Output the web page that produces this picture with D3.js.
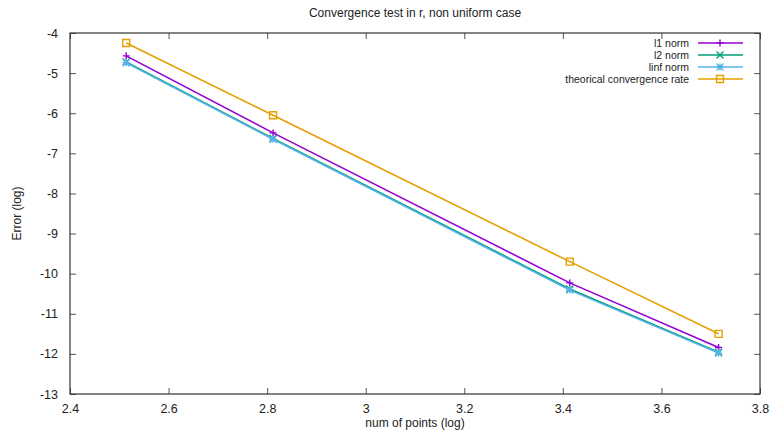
<!DOCTYPE html>
<html>
<head>
<meta charset="utf-8">
<script src="https://cdn.jsdelivr.net/npm/d3@7"></script>
<style>
  body { margin: 0; background: #fff; }
  svg { display: block; font-family: "Liberation Sans", Arial, sans-serif; }
</style>
</head>
<body>
<svg id="chart"></svg>
<script>
const xValues = [2.514, 2.812, 3.414, 3.716];
const l1Norm = [-4.57, -6.49, -10.23, -11.84];
const l2Norm = [-4.72, -6.63, -10.38, -11.96];
const linfNorm = [-4.74, -6.65, -10.41, -11.98];
const theoRate = [-4.25, -6.05, -9.70, -11.50];

const xTicks = [2.4, 2.6, 2.8, 3, 3.2, 3.4, 3.6, 3.8];
const yTicks = [-4, -5, -6, -7, -8, -9, -10, -11, -12, -13];

const seriesNames = ["l1 norm", "l2 norm", "linf norm", "theorical convergence rate"];
const seriesColors = ["#9400d3", "#009e73", "#56b4e9", "#e69f00"];
const seriesMarkers = ["plus", "cross", "star", "square"];

const width = 774;
const height = 432;
const margin = { top: 33, right: 14, bottom: 38, left: 70 };

const svg = d3.select("#chart").attr("width", width).attr("height", height);

const xScale = d3.scaleLinear().domain([2.4, 3.8]).range([margin.left, width - margin.right]);
const yScale = d3.scaleLinear().domain([-13, -4]).range([height - margin.bottom, margin.top]);

const series = [l1Norm, l2Norm, linfNorm, theoRate].map((vals, i) => ({
  name: seriesNames[i],
  color: seriesColors[i],
  marker: seriesMarkers[i],
  points: vals.map((v, j) => [xValues[j], v]),
}));

// axes with inward ticks, mirrored on top / right
const tickLen = 6;
const plainNum = (d) => String(d);
svg.append("g")
  .attr("transform", "translate(0," + (height - margin.bottom) + ")")
  .call(d3.axisBottom(xScale).tickValues(xTicks).tickSizeInner(-tickLen).tickSizeOuter(0).tickPadding(10).tickFormat(plainNum))
  .call(g => g.select(".domain").remove());
svg.append("g")
  .attr("transform", "translate(0," + margin.top + ")")
  .call(d3.axisTop(xScale).tickValues(xTicks).tickSizeInner(-tickLen).tickSizeOuter(0).tickFormat(""))
  .call(g => g.select(".domain").remove());
svg.append("g")
  .attr("transform", "translate(" + margin.left + ",0)")
  .call(d3.axisLeft(yScale).tickValues(yTicks).tickSizeInner(-tickLen).tickSizeOuter(0).tickPadding(12).tickFormat(plainNum))
  .call(g => g.select(".domain").remove());
svg.append("g")
  .attr("transform", "translate(" + (width - margin.right) + ",0)")
  .call(d3.axisRight(yScale).tickValues(yTicks).tickSizeInner(-tickLen).tickSizeOuter(0).tickFormat(""))
  .call(g => g.select(".domain").remove());

svg.selectAll(".tick text").attr("font-size", 12.5).attr("fill", "#222").attr("font-family", "Liberation Sans, Arial, sans-serif");
svg.selectAll(".tick line").attr("stroke", "#555");

svg.append("rect")
  .attr("x", margin.left).attr("y", margin.top)
  .attr("width", width - margin.left - margin.right)
  .attr("height", height - margin.top - margin.bottom)
  .attr("fill", "none").attr("stroke", "#333").attr("stroke-width", 1.2);

const markerPath = (type, x, y) => {
  const s = 3.5;
  if (type === "plus") return `M${x - s},${y}H${x + s}M${x},${y - s}V${y + s}`;
  if (type === "cross") return `M${x - s},${y - s}L${x + s},${y + s}M${x - s},${y + s}L${x + s},${y - s}`;
  if (type === "star") return `M${x - s},${y}H${x + s}M${x},${y - s}V${y + s}M${x - s},${y - s}L${x + s},${y + s}M${x - s},${y + s}L${x + s},${y - s}`;
  return `M${x - s},${y - s}H${x + s}V${y + s}H${x - s}Z`;
};

const line = d3.line().x(d => xScale(d[0])).y(d => yScale(d[1]));

const plot = svg.append("g");
series.forEach(s => {
  plot.append("path")
    .attr("d", line(s.points))
    .attr("fill", "none")
    .attr("stroke", s.color)
    .attr("stroke-width", 1.6);
  plot.selectAll(null)
    .data(s.points)
    .enter()
    .append("path")
    .attr("d", d => markerPath(s.marker, xScale(d[0]), yScale(d[1])))
    .attr("fill", "none")
    .attr("stroke", s.color)
    .attr("stroke-width", 1.4);
});

// legend
const legend = svg.append("g");
series.forEach((s, i) => {
  const y = 43 + i * 12;
  legend.append("text")
    .attr("x", 689).attr("y", y + 4)
    .attr("text-anchor", "end")
    .attr("font-size", 10.5)
    .attr("fill", "#222")
    .text(s.name);
  legend.append("line")
    .attr("x1", 698).attr("x2", 743).attr("y1", y).attr("y2", y)
    .attr("stroke", s.color).attr("stroke-width", 1.6);
  legend.append("path")
    .attr("d", markerPath(s.marker, 720, y))
    .attr("fill", "none").attr("stroke", s.color).attr("stroke-width", 1.4);
});

// titles
svg.append("text")
  .attr("x", (margin.left + width - margin.right) / 2).attr("y", 17)
  .attr("text-anchor", "middle").attr("font-size", 12).attr("fill", "#222")
  .text("Convergence test in r, non uniform case");
svg.append("text")
  .attr("x", (margin.left + width - margin.right) / 2).attr("y", 427)
  .attr("text-anchor", "middle").attr("font-size", 12).attr("fill", "#222")
  .text("num of points (log)");
svg.append("text")
  .attr("transform", "translate(21," + (margin.top + height - margin.bottom) / 2 + ") rotate(-90)")
  .attr("text-anchor", "middle").attr("font-size", 12).attr("fill", "#222")
  .text("Error (log)");
</script>
</body>
</html>
